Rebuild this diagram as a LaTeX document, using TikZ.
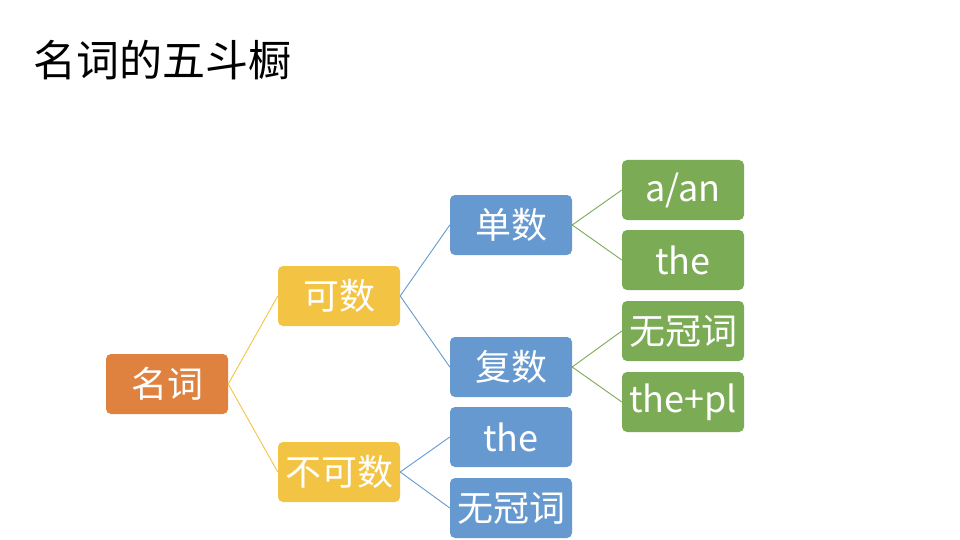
\documentclass[tikz,border=0pt]{standalone}
\usepackage{fontspec}
\setmainfont{Noto Sans CJK SC}
\usetikzlibrary{positioning}
\definecolor{nounorange}{HTML}{E0823F}
\definecolor{countyellow}{HTML}{F3C343}
\definecolor{numblue}{HTML}{6699CF}
\definecolor{artgreen}{HTML}{7CAB55}
\tikzset{
    box/.style = {rounded corners=5pt,minimum width=122pt,minimum height=60pt,
        inner sep=0pt,text=white,font=\fontsize{36}{36}\selectfont},
    root/.style = {box,fill=nounorange},
    kind/.style = {box,fill=countyellow},
    num/.style = {box,fill=numblue},
    art/.style = {box,fill=artgreen},
    branch/.style = {line width=0.9pt}
}

\begin{document}
\begin{tikzpicture}[x=1pt,y=-1pt]
        \useasboundingbox (0,0) rectangle (960,540);
        % Title
        \node[anchor=west,font=\fontsize{43}{43}\selectfont] (title) at (30,60) {名词的五斗橱};
        % Boxes
        \node[root] (noun) at (167,384) {名词};
        \node[kind] (cnt) at (339,296) {可数};
        \node[kind] (uncnt) at (339,472) {不可数};
        \node[num] (sing) at (511,225) {单数};
        \node[num] (plur) at (511,367) {复数};
        \node[num] (uthe) at (511,437) {the};
        \node[num] (unone) at (511,508) {无冠词};
        \node[art] (aan) at (683,190) {a/an};
        \node[art] (sthe) at (683,260) {the};
        \node[art] (pnone) at (683,331) {无冠词};
        \node[art] (pthe) at (683,402) {the+pl};
        % Branches
        \foreach \src/\dest in {noun/cnt,noun/uncnt}
            \draw[branch,countyellow] (\src.east) -- (\dest.west);
        \foreach \src/\dest in {cnt/sing,cnt/plur,uncnt/uthe,uncnt/unone}
            \draw[branch,numblue] (\src.east) -- (\dest.west);
        \foreach \src/\dest in {sing/aan,sing/sthe,plur/pnone,plur/pthe}
            \draw[branch,artgreen] (\src.east) -- (\dest.west);
    \end{tikzpicture}
\end{document}
